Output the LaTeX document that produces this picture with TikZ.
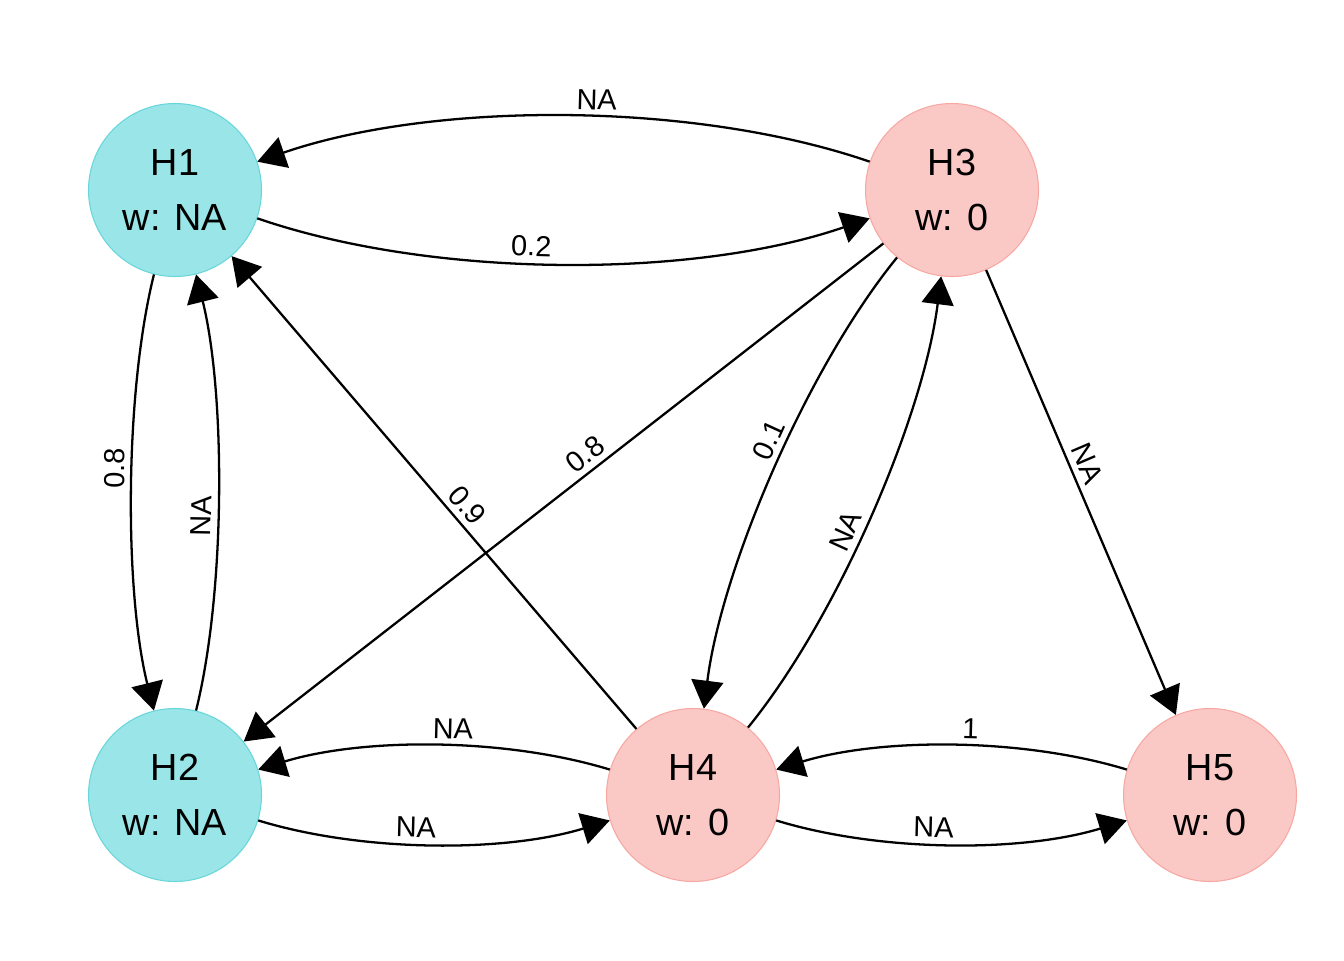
\documentclass[tikz,border=0pt]{standalone}
\usepackage{fontspec}
\setmainfont{Liberation Sans}
\usetikzlibrary{arrows.meta}

\definecolor{hcyan}{RGB}{153,229,231}
\definecolor{hcyanline}{RGB}{105,214,219}
\definecolor{hpink}{RGB}{250,200,197}
\definecolor{hpinkline}{RGB}{247,168,162}

\begin{document}
\begin{tikzpicture}[->,>={Triangle[length=0.56cm,width=0.64cm]},line width=1.3pt]
        \tikzstyle{hyp}=[circle, draw, line width=0.6pt, minimum size=3.46cm, inner sep=0pt, align=center, text=black, font=\fontsize{21.5}{31.5}\selectfont]
        \tikzstyle{cyan hyp}=[hyp, fill=hcyan, draw=hcyanline]
        \tikzstyle{pink hyp}=[hyp, fill=hpink, draw=hpinkline]
        \tikzstyle{wlab}=[pos=0.45, sloped, above, font=\fontsize{16.5}{18}\selectfont]

        \useasboundingbox (0,0) rectangle (26.88,-19.2);

        \node[cyan hyp] (H1) at (3.5,-3.8)   {H1\\w: NA};
        \node[pink hyp] (H3) at (19.04,-3.8) {H3\\w: 0};
        \node[cyan hyp] (H2) at (3.5,-15.9)  {H2\\w: NA};
        \node[pink hyp] (H4) at (13.86,-15.9) {H4\\w: 0};
        \node[pink hyp] (H5) at (24.2,-15.9) {H5\\w: 0};

        \draw (H3) to[bend right=19, looseness=0.78] node[wlab] {NA} (H1);
        \draw (H1) to[bend right=19, looseness=0.78] node[wlab] {0.2} (H3);
        \draw (H1) to[bend right=14, looseness=0.72] node[wlab] {0.8} (H2);
        \draw (H2) to[bend right=14, looseness=0.72] node[wlab] {NA} (H1);
        \draw (H4) -- node[wlab] {0.9} (H1);
        \draw (H3) -- node[wlab] {0.8} (H2);
        \draw (H3) to[bend right=16, looseness=0.74] node[wlab] {0.1} (H4);
        \draw (H4) to[bend right=16, looseness=0.74] node[wlab] {NA} (H3);
        \draw (H3) -- node[wlab] {NA} (H5);
        \draw (H4) to[bend right=17, looseness=0.8] node[wlab] {NA} (H2);
        \draw (H2) to[bend right=17, looseness=0.8] node[wlab] {NA} (H4);
        \draw (H5) to[bend right=17, looseness=0.8] node[wlab] {1} (H4);
        \draw (H4) to[bend right=17, looseness=0.8] node[wlab] {NA} (H5);

      \end{tikzpicture}
\end{document}
